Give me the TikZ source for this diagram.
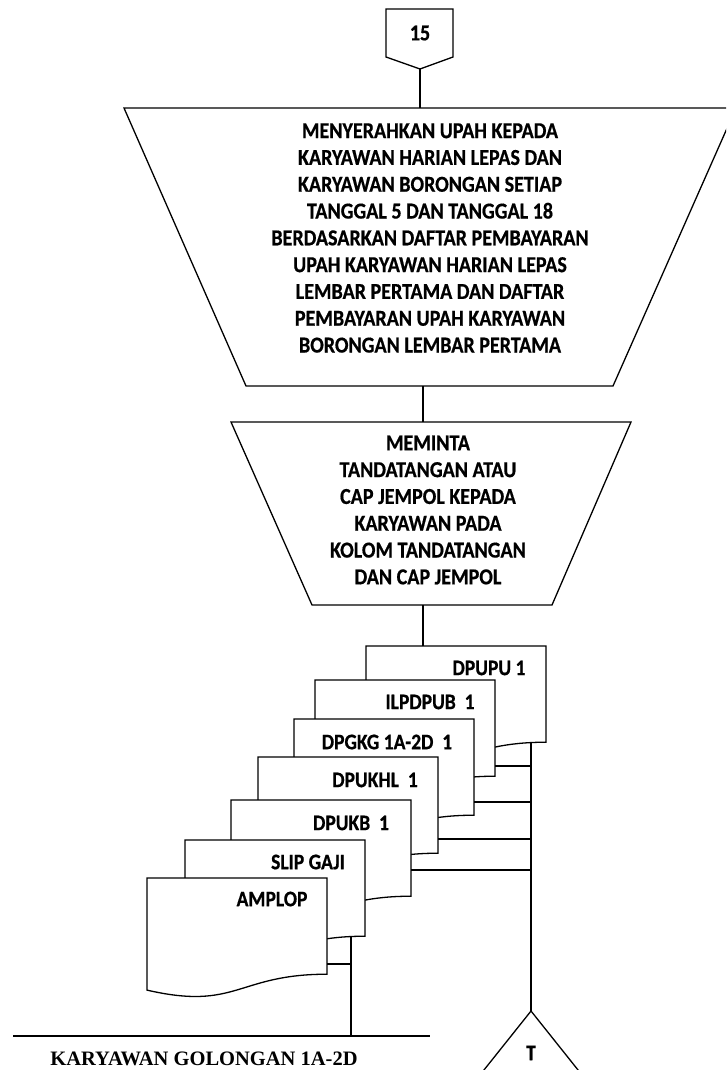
\documentclass[tikz,border=0pt]{standalone}
\usepackage{fontspec}
\setmainfont{Carlito}[FakeStretch=0.88, FakeBold=0.6]
\newfontfamily\serifbold{Liberation Serif}
\usetikzlibrary{calc}

% document symbol drawn on a named box: flat top, wavy bottom
\newcommand\docpath[1]{%
  \filldraw[line, fill=white] (#1.north west) -- (#1.north east)
    -- ($(#1.north east)+(0,96.2)$)
    .. controls ($(#1.north)+(0,96.2)$) and ($(#1.north)+(0,132.9)$)
    .. ($(#1.north west)+(0,112.1)$) -- cycle;}

\begin{document}
\begin{tikzpicture}[x=1pt,y=-1pt,
  line/.style={line width=1.3pt, line join=miter},
  lbl/.style={font=\fontsize{22.8}{26.8}\selectfont\bfseries, align=center, inner sep=0pt},
  doctxt/.style={font=\fontsize{22.2}{24}\selectfont\bfseries, inner sep=0pt},
  docbox/.style={minimum width=180pt, minimum height=120pt, inner sep=0pt, outer sep=0pt},
]
\useasboundingbox (0,0) rectangle (726,1070);
\begin{scope}
\clip (0,0) rectangle (726,1070);

% off-page connector 15
\coordinate (pA) at (420,69);
\draw[line] (386,9) -- (453,9) -- (453,57) -- (pA) -- (386,57) -- cycle;
\node[lbl] (p15) at (420,33) {15};

% manual operation 1
\coordinate (m1top) at (420,108);
\coordinate (m1bot) at (423,386);
\draw[line] (124,108) -- (736,108) -- (613,386) -- (246,386) -- cycle;
\node[lbl] (m1) at (430,238) {MENYERAHKAN UPAH KEPADA\\KARYAWAN HARIAN LEPAS DAN\\KARYAWAN BORONGAN SETIAP\\TANGGAL 5 DAN TANGGAL 18\\BERDASARKAN DAFTAR PEMBAYARAN\\UPAH KARYAWAN HARIAN LEPAS\\LEMBAR PERTAMA DAN DAFTAR\\PEMBAYARAN UPAH KARYAWAN\\BORONGAN LEMBAR PERTAMA};

% manual operation 2
\coordinate (m2top) at (423,422);
\coordinate (m2bot) at (423,605);
\draw[line] (231,422) -- (631,422) -- (552,605) -- (312,605) -- cycle;
\node[lbl] (m2) at (428,510) {MEMINTA\\TANDATANGAN ATAU\\CAP JEMPOL KEPADA\\KARYAWAN PADA\\KOLOM TANDATANGAN\\DAN CAP JEMPOL};

\draw[line] (pA) -- (m1top);
\draw[line] (m1bot) -- (m2top);

% stacked documents, back to front
\node[docbox] (dA) at (456,706) {};
\docpath{dA}
\node[docbox] (dB) at (405,740) {};
\docpath{dB}
\node[docbox] (dC) at (384,779) {};
\docpath{dC}
\node[docbox] (dD) at (348,817) {};
\docpath{dD}
\node[docbox] (dE) at (321,860) {};
\docpath{dE}
\node[docbox] (dF) at (275,900) {};
\docpath{dF}
\node[docbox] (dG) at (237,938) {};
\docpath{dG}

\node[doctxt] (tA) at (489,668) {DPUPU 1};
\node[doctxt] (tB) at (430,702) {ILPDPUB\ \ 1};
\node[doctxt] (tC) at (387,742) {DPGKG 1A-2D\ \ 1};
\node[doctxt] (tD) at (375,780) {DPUKHL\ \ 1};
\node[doctxt] (tE) at (351,823) {DPUKB\ \ 1};
\node[doctxt] (tF) at (308,862) {SLIP GAJI};
\node[doctxt] (tG) at (272,899) {AMPLOP};

\draw[line] ($(dA.north west)+(57,0)$) -- (m2bot);

% filing triangle
\coordinate (tri) at (531,1011);
\draw[line] (tri) -- (468,1090) -- (594,1090) -- cycle;
\node[doctxt] (tT) at (531,1053) {T};

% right bus to the file
\coordinate (vA) at (531,742.6);
\draw[line] (vA) -- (tri);
\coordinate (hB) at ($(dB.north east)+(0,86)$);
\coordinate (hC) at ($(dC.north east)+(0,83)$);
\coordinate (hD) at ($(dD.north east)+(0,82)$);
\coordinate (hE) at ($(dE.north east)+(0,70)$);
\draw[line] (hB) -- (hB -| vA);
\draw[line] (hC) -- (hC -| vA);
\draw[line] (hD) -- (hD -| vA);
\draw[line] (hE) -- (hE -| vA);

% left bus to the employee
\coordinate (vF) at (351,937);
\coordinate (bl1) at (13,1036);
\coordinate (bl2) at (430,1036);
\coordinate (hG) at ($(dG.north east)+(0,86)$);
\draw[line] (vF) -- (vF |- bl1);
\draw[line] (hG) -- (hG -| vF);
\draw[line] (bl1) -- (bl2);
\node[inner sep=0pt, font=\serifbold\fontsize{20.5}{22}\selectfont\bfseries] (emp) at (204,1059) {KARYAWAN GOLONGAN 1A-2D};
\end{scope}
\end{tikzpicture}
\end{document}
